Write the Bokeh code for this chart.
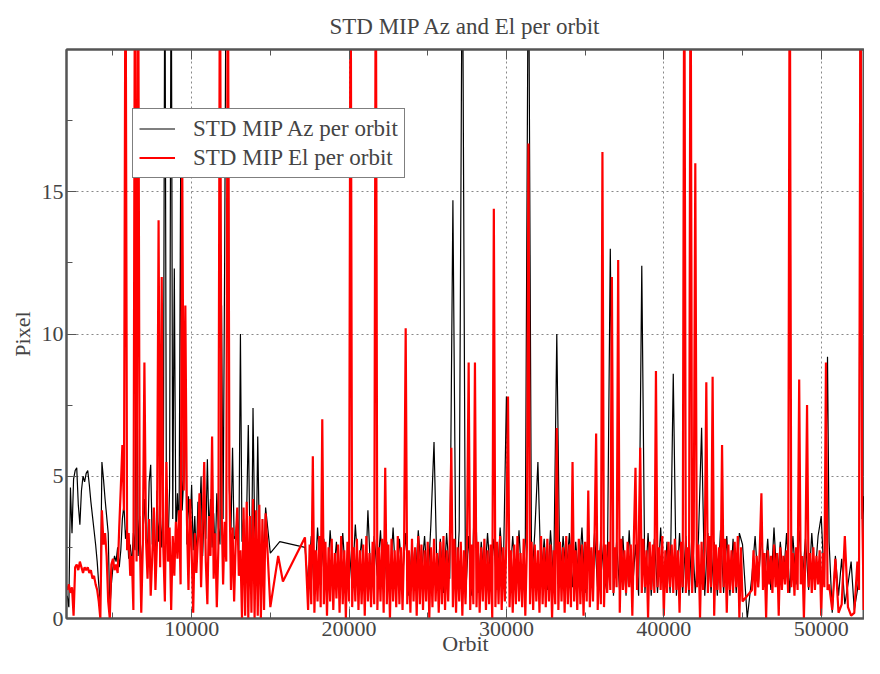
import numpy as np
from bokeh.plotting import figure
from bokeh.models import Range1d, FixedTicker, LinearAxis, Legend, LegendItem
from bokeh.embed import file_html
from bokeh.resources import INLINE

# ---------------- data ----------------
TITLE = "STD MIP Az and El per orbit"
X_LABEL = "Orbit"
Y_LABEL = "Pixel"
AZ_NAME = "STD MIP Az per orbit"
EL_NAME = "STD MIP El per orbit"
X_TICKS = [10000, 20000, 30000, 40000, 50000]
X_MINOR = [5000, 15000, 25000, 35000, 45000]
Y_TICKS = [0, 5, 10, 15]
Y_MINOR = [2.5, 7.5, 12.5, 17.5]

# orbit sampling of the regular parts: (first, last, step)
EL_SAMPLING = [(2100, 14700, 100), (17400, 45000, 100), (45600, 50400, 100), (52400, 53100, 100)]
AZ_SAMPLING = [(2100, 14700, 100), (17400, 45000, 200), (45600, 50400, 200), (52400, 53100, 100)]

# El (red) values
EL_EARLY = [1.0, 1.2, 0.9, 1.1, 0.1, 1.8, 1.9, 1.7, 2.0, 1.8,
            1.6, 1.8, 1.7, 1.8, 1.6, 1.7, 1.4, 1.5, 1.2, 1.0,
            0.6, 0.0, 3.8, 2.6, 3.0, 2.2, 0.6, 0.0, 1.9, 2.1,
            1.7, 1.9, 1.6, 3.2, 4.6, 6.1, 3.8, 25, 2.4, 3.0,
            1.5, 2.2, 0.3, 25, 2.0, 25, 3.1, 0.2, 2.6, 9.0,
            2.8, 1.4, 3.5, 0.8, 2.2, 3.9, 1.0, 2.7, 14.0, 1.8,
            12.0, 2.5, 0.6, 5.5, 2.0, 3.2, 0.3, 2.9, 1.5, 3.4,
            2.1, 3.8, 1.2, 16.5, 4.5, 11.0, 3.5, 1.0, 4.2, 2.4,
            0.2, 3.0, 1.6, 2.8, 4.4, 1.1, 3.3, 5.5, 2.0, 0.5,
            3.6, 2.2, 6.4, 1.4, 3.0, 0.4, 2.5, 25, 4.0, 1.2,
            3.4, 2.0, 25, 4.8, 1.0, 3.2, 0.6, 2.7, 3.9, 1.5,
            2.4, 0.0, 3.9, 0.1, 4.1, 0.0, 3.6, 0.2, 4.2, 0.0,
            3.8, 0.1, 4.0, 0.0, 3.5, 0.3, 3.7]
EL_GAP_X = [15000, 15500, 15800, 17200]
EL_GAP = [0.4, 2.2, 1.3, 2.85]
EL_DENSE1 = [0.3, 2.6, 0.5, 5.7, 0.2, 2.4, 0.6, 2.9, 0.4, 7.0,
             0.5, 2.7, 0.1, 2.5, 0.6, 2.8, 0.3, 2.3, 0.7, 2.6,
             0.2, 2.9, 0.5, 2.4, 0.0, 2.7, 0.6, 25, 0.4, 2.5,
             0.6, 2.8, 0.3, 2.4, 0.5, 2.6, 0.1, 2.9, 0.6, 2.3,
             0.4, 2.7, 0.5, 25, 0.3, 2.5, 0.6, 2.8, 0.2, 5.3,
             0.5, 2.6, 0.0, 2.8, 0.6, 2.4, 0.4, 2.9, 0.5, 2.5,
             0.3, 2.7, 10.2, 0.5, 2.4, 0.2, 2.8, 0.6, 2.5, 0.1,
             2.9, 0.5, 2.6, 0.3, 2.4, 0.6, 2.7, 0.0, 2.5, 0.4,
             2.8, 0.6, 2.3, 0.2, 2.7, 0.5, 2.9, 0.3, 2.4, 0.6,
             2.6, 6.0, 0.4, 2.8, 0.2, 2.5, 0.6, 2.7, 0.1, 2.4,
             0.5, 2.9, 9.0, 0.3, 2.6, 0.5, 9.0, 0.4, 2.7, 0.2,
             2.5, 0.6, 2.8, 0.3, 2.4, 0.5, 2.6, 0.0, 14.4, 0.4,
             2.7, 0.5, 2.9, 0.3, 2.5, 0.6, 2.8, 7.8, 0.4, 2.4,
             0.2, 2.6, 0.5, 2.9, 0.6, 2.3, 0.4, 2.8, 0.1, 2.5,
             16.7, 0.5, 2.7, 0.3, 2.6, 0.6, 2.4, 0.2, 2.9, 0.5,
             2.5, 0.4, 2.8, 0.6, 2.6, 0.0, 2.4, 0.5, 6.7, 0.3,
             2.7, 0.6, 2.5, 0.2, 2.9, 0.5, 2.6, 0.4, 5.5, 0.6,
             2.4, 0.3, 2.8, 0.5, 2.6, 0.1, 2.7, 0.6, 4.5, 0.4,
             2.5, 0.6, 2.9, 6.5, 0.3, 2.4, 0.5, 16.4, 0.4, 2.6,
             0.9, 2.7, 1.0, 12.0, 0.9, 2.5, 1.1, 12.6, 0.2, 2.8,
             1.0, 2.4, 0.9, 2.7, 1.1, 2.6, 0.1, 2.9, 5.3, 1.0,
             2.5, 6.0, 0.9, 2.8, 1.1, 2.4, 0.0, 2.7, 1.0, 2.6,
             0.9, 8.7, 1.1, 2.5, 1.0, 2.9, 0.1, 2.4, 0.9, 2.7,
             1.1, 2.6, 0.9, 2.8, 1.0, 2.4, 0.2, 2.7, 1.1, 25,
             0.9, 2.5, 1.0, 25, 0.9, 2.8, 16.0, 1.1, 2.6, 0.0,
             2.7, 1.0, 2.4, 8.3, 0.9, 2.9, 1.1, 8.5, 0.1, 2.6,
             1.0, 2.5, 0.9, 6.1, 1.1, 2.8, 0.2, 2.6, 1.0, 2.4,
             0.9, 2.7, 1.1, 2.9, 0.0, 2.5, 0.6]
EL_DENSE2 = [1.0, 2.4, 0.8, 2.2, 1.1, 2.5, 4.4, 1.0, 2.3, 0.0,
             2.4, 1.2, 2.2, 0.9, 2.6, 1.1, 2.3, 0.1, 2.5, 1.0,
             2.2, 1.2, 2.4, 0.9, 25, 1.1, 2.3, 0.8, 2.5, 1.0,
             8.4, 1.2, 2.2, 0.0, 2.4, 7.5, 1.1, 2.3, 0.9, 2.5,
             1.0, 2.2, 1.2, 2.4, 0.1, 2.3, 1.1, 9.0, 1.0]
EL_TAIL_X = [50500, 50700, 50900, 51100, 51300, 51500, 51700, 51900, 52100, 52300]
EL_TAIL = [1.2, 0.3, 2.1, 0.2, 0.5, 2.9, 0.4, 0.1, 0.2, 2.0]
EL_END = [1.0, 25, 4.2, 0.3, 3.9, 0.2, 4.1, 0.5]

# Az (black) values
AZ_EARLY = [0.8, 0.4, 4.6, 3.0, 4.9, 5.2, 5.3, 4.0, 3.3, 4.5,
            5.0, 4.8, 5.1, 5.2, 4.7, 4.1, 3.6, 3.1, 2.6, 2.0,
            1.2, 0.5, 5.5, 4.9, 4.2, 3.6, 3.0, 0.3, 1.2, 1.8,
            2.2, 2.0, 2.5, 1.8, 2.4, 3.5, 4.0, 2.8, 3.3, 2.1,
            2.6, 1.9, 3.0, 2.4, 12.5, 2.2, 3.6, 1.5, 2.8, 4.2,
            3.0, 2.3, 4.8, 5.4, 2.6, 3.3, 1.9, 4.5, 2.7, 3.8,
            2.5, 4.0, 25, 3.1, 2.4, 4.6, 25, 3.5, 12.3, 2.9,
            4.4, 3.0, 15.5, 3.8, 5.0, 8.0, 2.6, 4.3, 3.1, 4.7,
            2.4, 3.6, 2.0, 4.1, 3.3, 5.0, 2.2, 3.9, 2.8, 5.6,
            3.0, 4.2, 2.5, 3.7, 2.1, 4.4, 3.2, 2.6, 11.0, 3.5,
            12.8, 25, 25, 4.5, 3.1, 6.0, 2.8, 2.9, 3.6, 2.4,
            10.0, 2.7, 3.5, 1.0, 3.8, 6.8, 2.9, 1.2, 7.4, 3.3,
            2.0, 6.4, 2.8, 1.5, 3.1, 2.2, 3.9]
AZ_GAP_X = [15000, 15600, 17200]
AZ_GAP = [2.3, 2.7, 2.5]
AZ_DENSE1 = [1.2, 2.9, 0.8, 3.2, 1.5,
             2.8, 1.0, 3.1, 1.4, 2.7,
             0.9, 3.0, 1.3, 2.6, 1.1,
             3.3, 1.6, 2.8, 0.7, 3.8,
             1.2, 2.9, 1.5, 3.1, 0.9,
             2.7, 1.3, 3.2, 1.0, 2.8,
             1.4, 3.0, 0.8, 2.6, 1.2,
             3.1, 1.5, 2.9, 1.1, 3.3,
             6.2, 1.3, 2.8, 0.9, 3.0,
             1.4, 14.7, 0.8, 3.1, 25,
             0.7, 2.9, 0.8, 5.0, 0.9,
             2.7, 1.2, 3.0, 1.4, 2.8,
             1.0, 3.2, 1.5, 7.8, 1.1,
             2.9, 1.3, 3.1, 0.9, 2.7,
             25, 1.2, 3.0, 5.5, 1.4,
             2.8, 1.0, 3.1, 1.3, 10.0,
             1.2, 2.9, 1.5, 3.0, 1.1,
             2.7, 1.4, 3.2, 0.9, 2.8,
             1.3, 3.0, 1.0, 2.9, 1.5,
             0.9, 13.0, 0.8, 2.7, 0.9,
             2.9, 0.8, 3.1, 0.9, 2.6,
             0.8, 12.4, 0.9, 3.0, 0.8,
             2.8, 0.9, 3.2, 0.8, 2.7,
             0.9, 8.6, 0.8, 3.0, 0.9,
             2.9, 0.8, 3.1, 0.9, 2.8,
             6.7, 0.8, 3.0, 0.9, 2.7,
             0.8, 3.1, 0.9, 2.9, 0.8,
             2.8, 0.9, 3.0, 2.6]
AZ_DIP_X = [45300]
AZ_DIP = [0.0]
AZ_DENSE2 = [1.5, 2.9, 1.1, 3.0, 1.3,
             2.8, 1.0, 3.2, 1.2, 2.7,
             1.4, 3.0, 0.9, 2.9, 1.2,
             3.1, 1.3, 2.8, 1.0, 3.0,
             1.4, 2.9, 3.6, 1.2, 9.2]
AZ_TAIL_X = [50500, 50700, 50900, 51100, 51300, 51500, 51700, 51900, 52100, 52300]
AZ_TAIL = [2.7, 0.2, 2.2, 0.8, 2.1, 0.5, 1.2, 2.0, 0.3, 1.0]
AZ_END = [1.5, 25, 3.5, 4.3, 2.0, 3.2, 1.8, 2.5]


def orbits(first, last, step):
    return list(range(first, last + 1, step))


s = EL_SAMPLING
el_x = (orbits(*s[0]) + EL_GAP_X + orbits(*s[1]) + orbits(*s[2]) + EL_TAIL_X + orbits(*s[3]))
el_y = EL_EARLY + EL_GAP + EL_DENSE1 + EL_DENSE2 + EL_TAIL + EL_END
s = AZ_SAMPLING
az_x = (orbits(*s[0]) + AZ_GAP_X + orbits(*s[1]) + AZ_DIP_X + orbits(*s[2]) + AZ_TAIL_X + orbits(*s[3]))
az_y = AZ_EARLY + AZ_GAP + AZ_DENSE1 + AZ_DIP + AZ_DENSE2 + AZ_TAIL + AZ_END
n = min(len(el_x), len(el_y)); el_x, el_y = el_x[:n], el_y[:n]
n = min(len(az_x), len(az_y)); az_x, az_y = az_x[:n], az_y[:n]

# ---------------- figure ----------------
FONT = "Liberation Serif"
AX_COLOR = "#555555"
p = figure(width=864, height=658, output_backend="svg", toolbar_location=None,
           x_range=Range1d(2050, 52750), y_range=Range1d(0, 20),
           min_border_left=66, min_border_right=0, min_border_top=0, min_border_bottom=0)
p.background_fill_color = "white"
p.border_fill_color = "white"
p.outline_line_color = AX_COLOR
p.outline_line_width = 2

p.title.text = TITLE
p.title.text_font = FONT
p.title.text_font_size = "23px"
p.title.text_font_style = "normal"
p.title.align = "center"
p.title.offset = 8
p.title.standoff = 22

p.xaxis.ticker = FixedTicker(ticks=X_TICKS, minor_ticks=X_MINOR)
p.yaxis.ticker = FixedTicker(ticks=Y_TICKS, minor_ticks=Y_MINOR)
p.xaxis.axis_label = X_LABEL
p.yaxis.axis_label = Y_LABEL
for ax in (p.xaxis[0], p.yaxis[0]):
    ax.axis_label_text_font = FONT
    ax.axis_label_text_font_size = "22px"
    ax.axis_label_text_font_style = "normal"
    ax.major_label_text_font = FONT
    ax.major_label_text_font_size = "22px"
    ax.axis_line_color = AX_COLOR
    ax.axis_line_width = 2
    ax.major_tick_in = 10
    ax.major_tick_out = 0
    ax.minor_tick_in = 6
    ax.minor_tick_out = 0
    ax.major_tick_line_color = AX_COLOR
    ax.minor_tick_line_color = AX_COLOR
    ax.major_label_standoff = 3
p.xaxis.axis_label_standoff = -8
p.yaxis.axis_label_standoff = 4

top_ax = LinearAxis(ticker=FixedTicker(ticks=X_TICKS, minor_ticks=X_MINOR))
top_ax.major_label_text_font_size = "1px"
top_ax.major_label_text_color = None
top_ax.major_label_standoff = 0
top_ax.axis_line_color = AX_COLOR
top_ax.axis_line_width = 2
top_ax.major_tick_in = 10
top_ax.major_tick_out = 0
top_ax.minor_tick_in = 6
top_ax.minor_tick_out = 0
top_ax.major_tick_line_color = AX_COLOR
top_ax.minor_tick_line_color = AX_COLOR
p.add_layout(top_ax, "above")

p.xgrid.ticker = FixedTicker(ticks=X_TICKS)
p.ygrid.ticker = FixedTicker(ticks=[5, 10, 15])
for g in (p.xgrid[0], p.ygrid[0]):
    g.grid_line_color = "#888888"
    g.grid_line_dash = "2 3"
    g.grid_line_width = 1

r_az = p.line(az_x, az_y, line_color="black", line_width=1.2)
r_el = p.line(el_x, el_y, line_color="#ff0000", line_width=2.2)

legend = Legend(items=[LegendItem(label=AZ_NAME, renderers=[r_az]),
                       LegendItem(label=EL_NAME, renderers=[r_el])],
                location=(66, 440))
legend.label_text_font = FONT
legend.label_text_font_size = "23px"
legend.glyph_width = 36
legend.glyph_height = 27
legend.label_height = 27
legend.label_standoff = 18
legend.spacing = 2
legend.padding = 6
legend.margin = 0
legend.border_line_color = "black"
legend.border_line_width = 1
legend.background_fill_color = "white"
legend.background_fill_alpha = 1.0
p.add_layout(legend, "center")

open("out.html", "w").write(file_html(p, INLINE))
